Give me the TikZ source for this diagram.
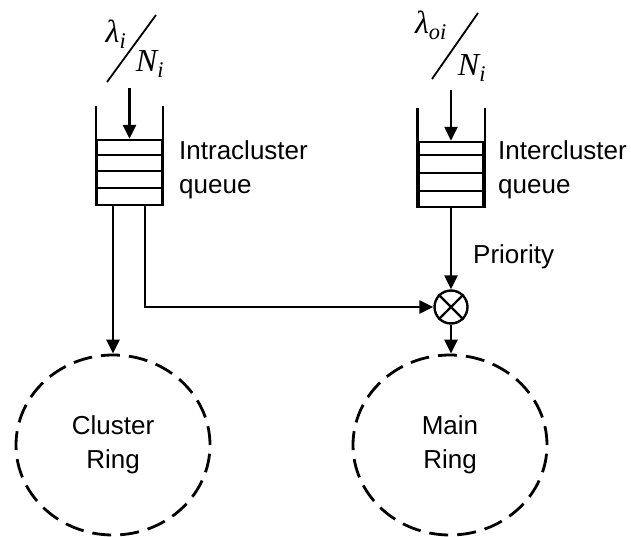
\documentclass[tikz,border=0pt]{standalone}
\usepackage{fontspec}
\setmainfont{Liberation Sans}
\newfontfamily\tmsfont{Liberation Serif}
\usetikzlibrary{arrows.meta,shapes.geometric}

\begin{document}
\begin{tikzpicture}[x=1pt,y=-1pt,line width=2.4pt,
  arr/.style={-{Triangle[length=14pt,width=13pt]}},
  qbox/.style={draw,rectangle,minimum width=65pt,minimum height=65pt,inner sep=0pt},
  lbl/.style={font=\fontsize{26}{34}\selectfont,align=left,inner sep=0pt},
  ring/.style={draw,ellipse,dash pattern=on 19pt off 9pt,line width=2.8pt,
    minimum width=194pt,minimum height=180pt,inner sep=0pt,
    font=\fontsize{26}{34}\selectfont,align=center},
  rate/.style={font=\tmsfont\itshape\fontsize{32}{34}\selectfont,inner sep=0pt},
  mixer/.style={draw,circle,minimum size=33pt,inner sep=0pt}]

\useasboundingbox (0,0) rectangle (631,537);

% arrival rates
\coordinate (sa1) at (107,82);
\coordinate (sa2) at (156,15);
\draw[line width=1.8pt] (sa1) -- (sa2);
\node[rate] (lama) at (116,34) {λ\textsubscript{i}};
\node[rate] (na) at (150,64) {N\textsubscript{i}};

\coordinate (sb1) at (432,79);
\coordinate (sb2) at (478,13);
\draw[line width=1.8pt] (sb1) -- (sb2);
\node[rate] (lamb) at (431,25) {λ\textsubscript{oi}};
\node[rate] (nb) at (472,68) {N\textsubscript{i}};

% intracluster queue
\node[qbox] (qa) at (129.5,172.5) {};
\draw (qa.south west) -- ++(0,-100);
\draw (qa.south east) -- ++(0,-100);
\foreach \d in {16,32,49}
  \draw ([yshift=-\d pt]qa.north west) -- ([yshift=-\d pt]qa.north east);
\coordinate (ina) at (129.5,88);
\draw[arr] (ina) -- (qa.north);
\node[lbl,anchor=north west] (la) at (178,139) {Intracluster\\queue};

% intercluster queue
\node[qbox] (qb) at (451,174.5) {};
\draw (qb.south west) -- ++(0,-100);
\draw (qb.south east) -- ++(0,-100);
\foreach \d in {14,32,50}
  \draw ([yshift=-\d pt]qb.north west) -- ([yshift=-\d pt]qb.north east);
\coordinate (inb) at (451,90);
\draw[arr] (inb) -- (qb.north);
\node[lbl,anchor=north west] (lb) at (497,139) {Intercluster\\queue};

% priority multiplexer
\node[mixer] (mx) at (451,307) {};
\draw (mx.north west) -- (mx.south east);
\draw (mx.north east) -- (mx.south west);
\node[lbl,anchor=north west] (lp) at (472,243) {Priority};

% rings
\node[ring] (cr) at (113,445) {Cluster\\Ring};
\node[ring] (mr) at (450,445) {Main\\Ring};

% connectors
\draw[arr] ([xshift=-16.5pt]qa.south) -- (cr.north);
\draw[arr] ([xshift=15.5pt]qa.south) |- (mx.west);
\draw[arr] (qb.south) -- (mx.north);
\draw[arr] (mx.south) -- (mr.north -| mx.south);
\end{tikzpicture}
\end{document}
